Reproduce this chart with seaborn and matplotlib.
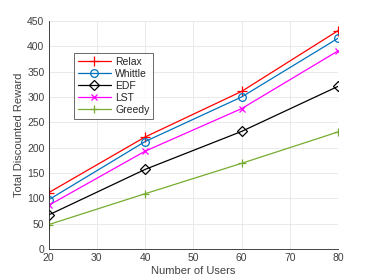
import matplotlib
matplotlib.use("Agg")
import matplotlib.pyplot as plt
import seaborn as sns
import pandas as pd

users = [20, 40, 60, 80]
relax = [111, 221, 311, 431]
whittle = [97, 212, 300, 416]
edf = [67, 157, 232, 321]
lst = [86, 193, 277, 391]
greedy = [48, 109, 169, 231]

names = ["Relax", "Whittle", "EDF", "LST", "Greedy"]
series = [relax, whittle, edf, lst, greedy]
colors = ["#FF0000", "#0072BD", "#000000", "#FF00FF", "#77AC30"]
markers = ["+", "o", "D", "x", "+"]
msizes = [7, 5.5, 5, 4, 6]

rows = []
for n, vals in zip(names, series):
    for u, v in zip(users, vals):
        rows.append({"Users": u, "Reward": v, "Method": n})
df = pd.DataFrame(rows)

sns.set_style("whitegrid")
plt.rcParams["font.family"] = ["Liberation Sans", "DejaVu Sans"]

fig = plt.figure(figsize=(3.74, 2.8), dpi=100)
ax = fig.add_axes([0.13, 0.111, 0.774, 0.814])

for n, c, m, ms in zip(names, colors, markers, msizes):
    sub = df[df["Method"] == n]
    sns.lineplot(data=sub, x="Users", y="Reward", ax=ax, color=c, marker=m,
                 markersize=ms, markerfacecolor="none", markeredgecolor=c,
                 markeredgewidth=0.9, linewidth=0.9, label=n)

ax.set_xlim(20, 80)
ax.set_ylim(0, 450)
ax.set_xticks(range(20, 81, 10))
ax.set_yticks(range(0, 451, 50))
ax.grid(True, color="#E6E6E6", linewidth=0.6)
for s in ["top", "right"]:
    ax.spines[s].set_visible(False)
for s in ["left", "bottom"]:
    ax.spines[s].set_color("#262626")
    ax.spines[s].set_linewidth(0.6)
ax.tick_params(labelsize=7.5, colors="#404040", length=2, direction="in", pad=3)
ax.set_xlabel("Number of Users", fontsize=8, color="#404040", labelpad=2)
ax.set_ylabel("Total Discounted Reward", fontsize=8, color="#404040", labelpad=2)

leg = ax.legend(loc="upper left", bbox_to_anchor=(0.088, 0.86), fontsize=7.5,
                frameon=True, fancybox=False, edgecolor="#262626",
                borderpad=0.35, labelspacing=0.2, handlelength=3.2,
                handletextpad=0.4, borderaxespad=0)
leg.get_frame().set_linewidth(0.6)

fig.savefig("out.png", dpi=100)
